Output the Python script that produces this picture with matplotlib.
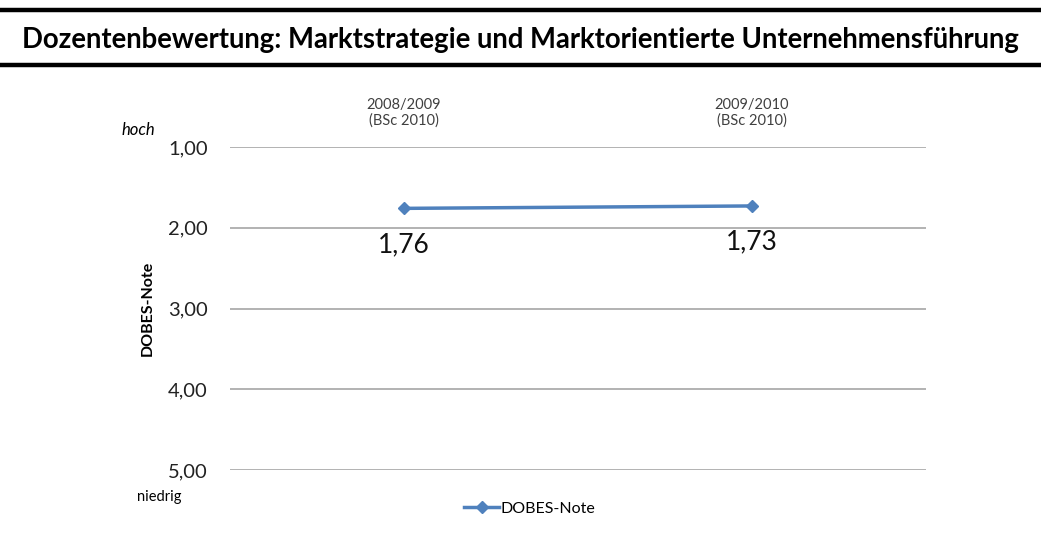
import matplotlib
matplotlib.use("Agg")
import matplotlib.pyplot as plt
from matplotlib.lines import Line2D

categories = ["2008/2009\n(BSc 2010)", "2009/2010\n(BSc 2010)"]
values = [1.76, 1.73]
value_labels = ["1,76", "1,73"]
yticks = [1, 2, 3, 4, 5]
ytick_labels = ["1,00", "2,00", "3,00", "4,00", "5,00"]
title = "Dozentenbewertung: Marktstrategie und Marktorientierte Unternehmensführung"
series_name = "DOBES-Note"

plt.rcParams['font.family'] = ['Lato', 'DejaVu Sans']
W, H = 1041, 540
fig = plt.figure(figsize=(W/100, H/100), dpi=100)

# header lines
fig.add_artist(Line2D([2/W, 1039/W], [1-10/H, 1-10/H], color='black', lw=3.2))
fig.add_artist(Line2D([2/W, 1039/W], [1-65/H, 1-65/H], color='black', lw=3.2))
fig.text(0.5, 1-40/H, title, ha='center', va='center', fontsize=19.8, fontweight='bold')

ax = fig.add_axes([230/W, 1-470/H, (926-230)/W, (470-147)/H])
x = list(range(len(categories)))
color = '#4F81BD'
ax.plot(x, values, color=color, lw=2.5, marker='D', markersize=6, label=series_name)
ax.set_xlim(-0.5, len(categories)-0.5)
ax.set_ylim(5, 1)
ax.set_yticks(yticks)
ax.set_yticklabels(ytick_labels, fontsize=14.5, color='#222222')
ax.yaxis.grid(True, color='#A6A6A6', lw=1.2)
ax.set_axisbelow(True)
ax.tick_params(axis='y', length=0, pad=16)
ax.set_xticks(x)
ax.set_xticklabels(categories, fontsize=10.5, color='#404040', linespacing=1.1)
ax.xaxis.tick_top()
ax.tick_params(axis='x', length=0, pad=14)
for s in ax.spines.values():
    s.set_visible(False)
for xi, v, lab in zip(x, values, value_labels):
    ax.annotate(lab, (xi, v), xytext=(0, -17), textcoords='offset points',
                ha='center', va='top', fontsize=19, color='#111111')

ax.set_ylabel("DOBES-Note", fontsize=11.5, fontweight='bold')
ax.yaxis.set_label_coords(-75/696, 0.5)
fig.text(122/W, 1-130/H, "hoch", fontsize=12, style='italic', ha='left', va='center')
fig.text(137/W, 1-497/H, "niedrig", fontsize=10.5, ha='left', va='center')

ax.legend(loc='center', bbox_to_anchor=(530/W, 1-509/H), bbox_transform=fig.transFigure,
          frameon=False, fontsize=11.5, handlelength=2.2, handletextpad=0.1)

fig.savefig("out.png", dpi=100)
